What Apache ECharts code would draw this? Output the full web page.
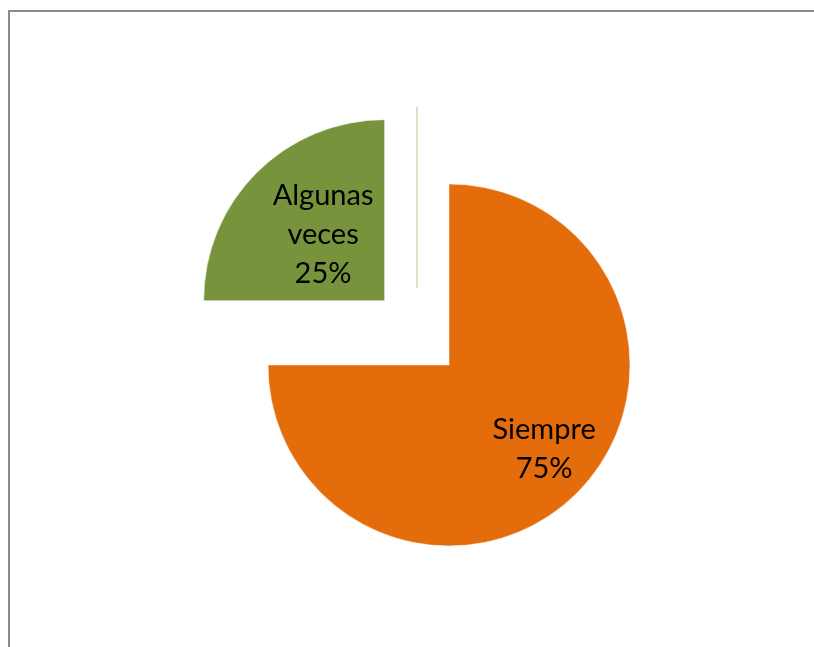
<!DOCTYPE html>
<html>
<head>
<meta charset="utf-8">
<script src="https://cdn.jsdelivr.net/npm/echarts@6/dist/echarts.min.js"></script>
<style>
html,body{margin:0;padding:0;background:#fff;}
#chart{width:814px;height:647px;}
</style>
</head>
<body>
<div id="chart"></div>
<script>
var categories = ['Siempre', 'Algunas veces'];
var values = [75, 25];
var percentLabels = ['75%', '25%'];
var colors = ['#E46C0A', '#77933C'];

var cx = 449, cy = 365, r = 181;

var chart = echarts.init(document.getElementById('chart'));
chart.setOption({
  backgroundColor: '#ffffff',
  animation: false,
  graphic: [
    { type: 'rect', shape: { x: 9, y: 11, width: 900, height: 900 },
      style: { fill: 'none', stroke: '#8a8a8a', lineWidth: 2 }, silent: true },
    { type: 'line', shape: { x1: cx - 32, y1: cy - 77 - r, x2: cx - 32, y2: cy - 77 },
      style: { stroke: '#d8e4bc', lineWidth: 2 }, silent: true }
  ],
  series: [{
    type: 'pie',
    center: [cx, cy],
    radius: r,
    startAngle: 90,
    clockwise: true,
    selectedMode: 'single',
    selectedOffset: 91,
    emphasis: { disabled: true },
    itemStyle: { borderColor: '#ffffff', borderWidth: 0.5 },
    label: {
      show: true,
      position: 'inside',
      color: '#000000',
      fontFamily: 'Lato, "Open Sans", sans-serif',
      fontSize: 29,
      lineHeight: 39,
      formatter: function (p) {
        return p.name.replace(' ', '\n') + '\n' + percentLabels[p.dataIndex];
      }
    },
    labelLine: { show: false },
    data: categories.map(function (c, i) {
      var d = { name: c, value: values[i], itemStyle: { color: colors[i] } };
      if (i === 0) d.label = { offset: [29, 18] };
      if (i === 1) { d.selected = true; d.label = { padding: [0, 0, 4, 9] }; }
      return d;
    })
  }]
});
</script>
</body>
</html>
